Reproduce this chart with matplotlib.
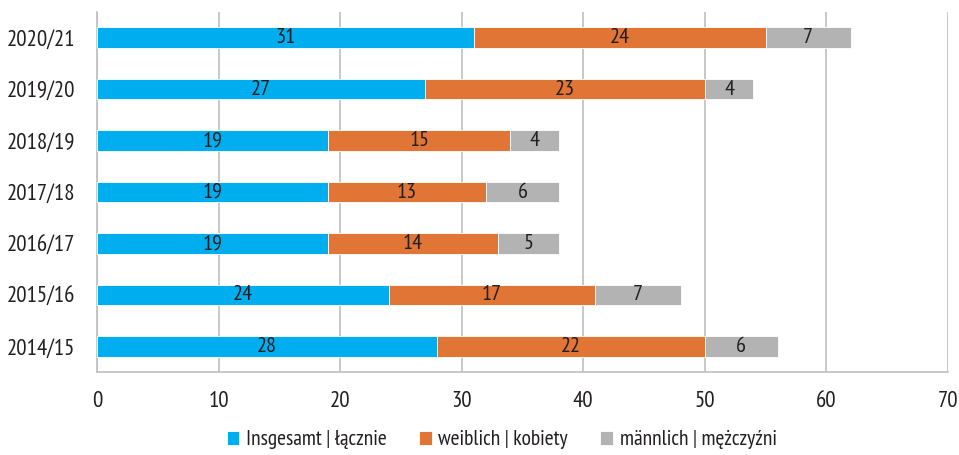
import matplotlib
matplotlib.use("Agg")
import matplotlib.pyplot as plt
import numpy as np

categories = ["2014/15", "2015/16", "2016/17", "2017/18", "2018/19", "2019/20", "2020/21"]
insgesamt = [28, 24, 19, 19, 19, 27, 31]
weiblich = [22, 17, 14, 13, 15, 23, 24]
maennlich = [6, 7, 5, 6, 4, 4, 7]
series_labels = ["Insgesamt | łącznie", "weiblich | kobiety", "männlich | mężczyźni"]
colors = ["#00AEEF", "#E07535", "#B3B3B4"]
xticks = [0, 10, 20, 30, 40, 50, 60, 70]

plt.rcParams['font.family'] = ['PT Sans Narrow', 'DejaVu Sans']
txt = "#231F20"

fig = plt.figure(figsize=(9.59, 4.55), dpi=100)
ax = fig.add_axes([97/959, 1-372/455, (948-97)/959, (372-12)/455])

y = np.arange(len(categories))
left = np.zeros(len(categories))
for vals, lab, col in zip([insgesamt, weiblich, maennlich], series_labels, colors):
    ax.barh(y, vals, left=left, height=0.4, color=col, label=lab,
            edgecolor="white", linewidth=0.6, zorder=3)
    for yi, l, v in zip(y, left, vals):
        ax.text(l + v/2, yi, str(v), ha="center", va="center", fontsize=16, color=txt, zorder=4)
    left = left + np.array(vals)

ax.set_xlim(0, 70)
ax.set_ylim(-0.5, 6.5)
ax.set_xticks(xticks)
ax.set_xticklabels([str(t) for t in xticks], fontsize=16.5, color=txt)
ax.set_yticks(y)
ax.set_yticklabels(categories, fontsize=16.5, color=txt)
ax.tick_params(axis="x", length=0, pad=14)
ax.tick_params(axis="y", length=0, pad=16)
ax.grid(axis="x", color="#BFBFBF", linewidth=1.2, zorder=0)
for s in ["top", "right"]:
    ax.spines[s].set_visible(False)
ax.spines["left"].set_color("#BFBFBF")
ax.spines["bottom"].set_color("#BFBFBF")
ax.spines["left"].set_linewidth(1.2)
ax.spines["bottom"].set_linewidth(1.2)

leg = fig.legend(loc="lower center", bbox_to_anchor=(0.523, -0.03), ncol=3, frameon=False,
                 fontsize=15.5, handlelength=0.6, handleheight=0.6, handletextpad=0.3,
                 columnspacing=1.5, labelcolor=txt)
fig.savefig("out.png", dpi=100)
